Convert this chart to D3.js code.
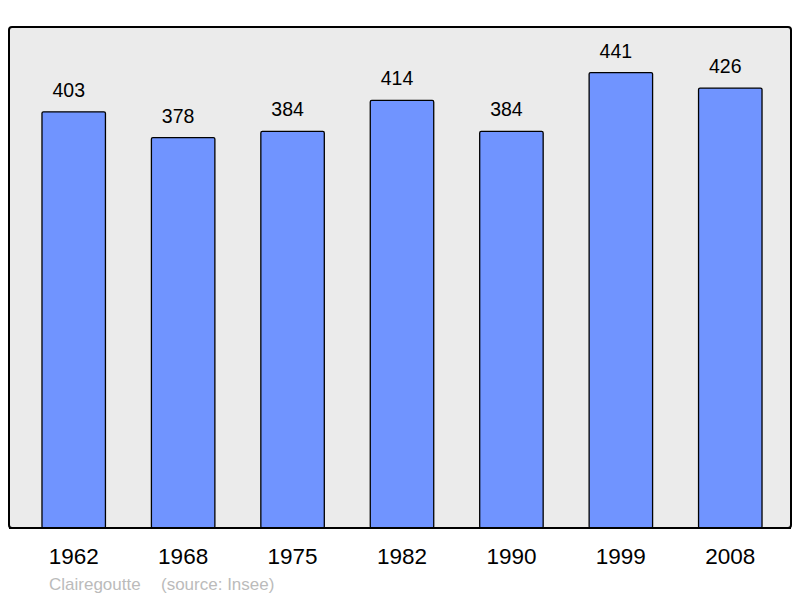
<!DOCTYPE html>
<html>
<head>
<meta charset="utf-8">
<script src="https://cdn.jsdelivr.net/npm/d3@7"></script>
<style>
  body { margin: 0; background: #fff; }
  text { font-family: "Liberation Sans", Arial, sans-serif; }
</style>
</head>
<body>
<svg id="chart" width="800" height="598"></svg>
<script>
const years = ["1962", "1968", "1975", "1982", "1990", "1999", "2008"];
const population = [403, 378, 384, 414, 384, 441, 426];
const place = "Clairegoutte";
const source = "(source: Insee)";

const svg = d3.select('#chart');

const frame = { left: 9, top: 27, right: 791, bottom: 528 };

svg.append('rect')
  .attr('x', frame.left)
  .attr('y', frame.top)
  .attr('width', frame.right - frame.left)
  .attr('height', frame.bottom - frame.top)
  .attr('rx', 3)
  .attr('fill', '#ebebeb')
  .attr('stroke', '#000')
  .attr('stroke-width', 2);

const x = d3.scaleBand()
  .domain(years)
  .range([19, 785])
  .paddingInner(0.42)
  .paddingOuter(0.21);

const y = d3.scaleLinear()
  .domain([0, d3.max(population) * 1.1])
  .range([frame.bottom, frame.top]);

const data = years.map((yr, i) => ({ year: yr, value: population[i] }));

svg.selectAll('.bar')
  .data(data)
  .enter()
  .append('rect')
  .attr('class', 'bar')
  .attr('x', d => x(d.year))
  .attr('y', d => y(d.value))
  .attr('width', x.bandwidth())
  .attr('height', d => frame.bottom - y(d.value))
  .attr('rx', 1.5)
  .attr('fill', '#7094ff')
  .attr('stroke', '#000')
  .attr('stroke-width', 1.3);

// redraw bottom edge of the frame over the bars
svg.append('line')
  .attr('x1', frame.left).attr('x2', frame.right)
  .attr('y1', frame.bottom).attr('y2', frame.bottom)
  .attr('stroke', '#000').attr('stroke-width', 2);

// value labels sit a little left of the bar centre
svg.selectAll('.val')
  .data(data)
  .enter()
  .append('text')
  .attr('class', 'val')
  .attr('x', d => x(d.year) + x.bandwidth() / 2 - 5)
  .attr('y', d => y(d.value) - 15)
  .attr('text-anchor', 'middle')
  .style('font-size', '19.5px')
  .attr('fill', '#000')
  .text(d => d.value);

svg.selectAll('.year')
  .data(years)
  .enter()
  .append('text')
  .attr('class', 'year')
  .attr('x', d => x(d) + x.bandwidth() / 2)
  .attr('y', 564)
  .attr('text-anchor', 'middle')
  .style('font-size', '22.5px')
  .attr('fill', '#000')
  .text(d => d);

svg.append('text')
  .attr('x', 49)
  .attr('y', 590)
  .style('font-size', '17px')
  .attr('fill', '#bbb')
  .text(place);

svg.append('text')
  .attr('x', 161)
  .attr('y', 590)
  .style('font-size', '17px')
  .attr('fill', '#bbb')
  .text(source);
</script>
</body>
</html>
